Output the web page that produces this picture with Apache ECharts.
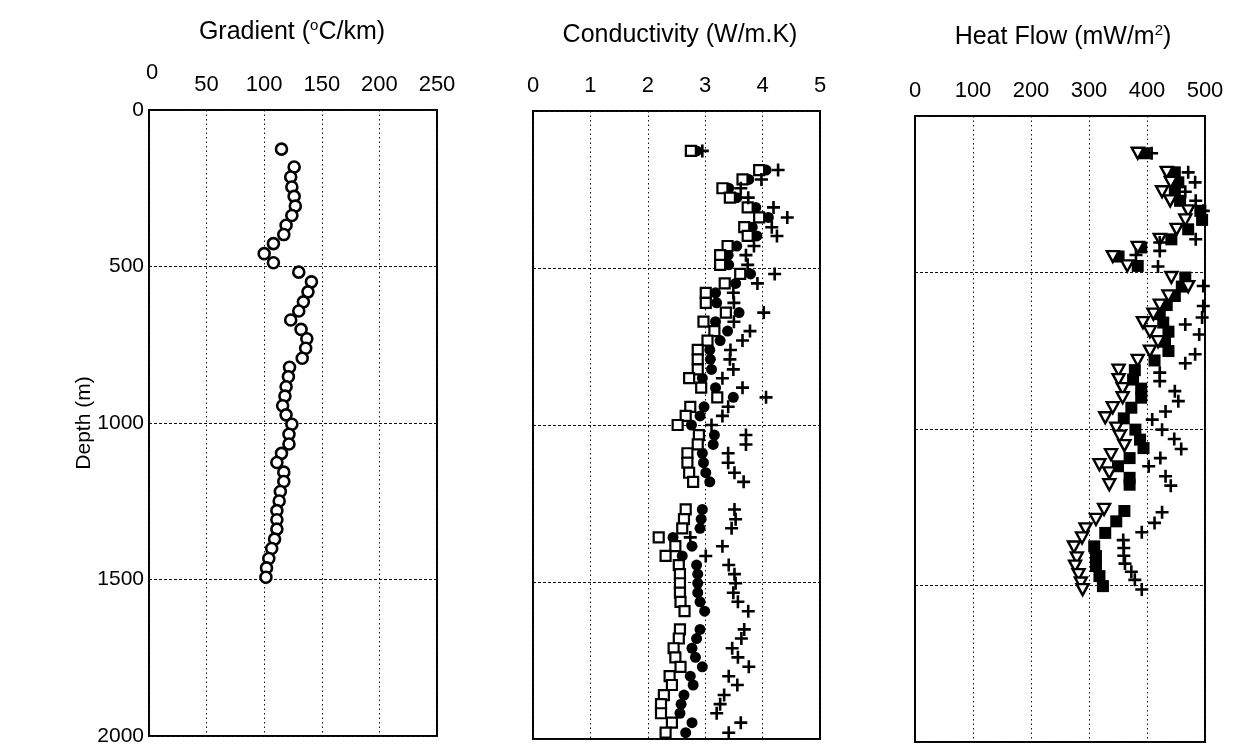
<!DOCTYPE html>
<html><head><meta charset="utf-8">
<script src="https://cdn.jsdelivr.net/npm/echarts@6/dist/echarts.min.js"></script>
<style>html,body{margin:0;padding:0;background:#fff}#c{width:1242px;height:751px}</style>
</head><body><div id="c"></div>
<script>
// ---------- Panel 1: Gradient (°C/km) ----------
var gradDepth = [125,182,214,246,276,307,337,368,398,427,459,488,518,549,581,613,642,671,701,731,761,793,822,852,884,914,945,974,1004,1036,1067,1097,1126,1157,1187,1219,1249,1280,1309,1339,1371,1401,1433,1463,1493];
var gradValue = [115,126,123,124,126,127,124,119,117,108,100,108,130,141,138,134,130,123,132,137,136,133,122,121,119,118,116,119,124,121.5,121.5,115,111,117,117,114,113,111,111,111,109,106.5,104,102,101.5];

// ---------- Panel 2: Conductivity (W/m.K) ----------
var condDepth = [127,188,218,246,276,307,339,370,398,430,459,490,519,549,579,611,642,671,701,731,761,791,823,851,881,912,942,971,1000,1032,1062,1090,1120,1152,1181,1269,1300,1329,1358,1386,1417,1446,1475,1504,1534,1563,1593,1651,1680,1711,1740,1770,1800,1828,1860,1889,1918,1948,1980];
var condSquare = [2.75,3.94,3.65,3.30,3.43,3.74,3.94,3.68,3.74,3.39,3.26,3.26,3.61,3.34,3.01,3.01,3.36,2.97,3.16,3.04,2.87,2.87,2.87,2.72,2.93,3.21,2.74,2.66,2.52,2.89,2.87,2.69,2.69,2.72,2.79,2.66,2.63,2.60,2.19,2.48,2.31,2.54,2.56,2.56,2.56,2.57,2.64,2.56,2.54,2.45,2.48,2.57,2.38,2.42,2.28,2.23,2.23,2.42,2.31];
var condCircle = [2.85,4.06,3.76,3.41,3.55,3.88,4.10,3.82,3.90,3.55,3.40,3.41,3.79,3.53,3.18,3.20,3.59,3.18,3.39,3.26,3.08,3.09,3.11,2.95,3.18,3.49,2.98,2.91,2.76,3.16,3.14,2.95,2.97,3.01,3.08,2.95,2.93,2.91,2.44,2.77,2.60,2.85,2.87,2.87,2.87,2.91,2.99,2.91,2.85,2.77,2.83,2.95,2.74,2.79,2.63,2.58,2.56,2.77,2.66];
var condPlus   = [2.95,4.27,3.98,3.62,3.75,4.19,4.43,4.16,4.25,3.85,3.71,3.74,4.21,3.91,3.49,3.50,4.02,3.50,3.78,3.65,3.44,3.43,3.49,3.30,3.65,4.06,3.40,3.30,3.11,3.71,3.71,3.40,3.40,3.51,3.67,3.51,3.53,3.46,2.74,3.30,3.01,3.41,3.51,3.53,3.49,3.57,3.75,3.68,3.63,3.47,3.57,3.76,3.41,3.56,3.33,3.26,3.20,3.62,3.41];

// ---------- Panel 3: Heat Flow (mW/m2) ----------
var hfTriDepth = [119,180,212,242,271,303,332,362,394,420,449,479,516,545,575,604,633,660,689,721,751,781,812,842,871,900,932,964,997,1023,1053,1082,1114,1140,1178,1257,1289,1319,1348,1377,1412,1438,1465,1492,1513];
var hfTriValue = [384,434,441,426,440,471,466,451,422,384,341,366,442,471,437,422,411,393,405,419,405,384,351,351,358,358,341,328,347,353,361,338,318,335,335,326,312,294,288,274,279,276,282,286,289];
var hfSqDepth  = [119,180,212,242,271,303,332,362,394,420,449,479,516,545,575,604,633,660,689,721,751,781,812,842,871,900,932,966,1002,1034,1061,1093,1119,1156,1178,1262,1295,1332,1375,1406,1438,1470,1502];
var hfSqValue  = [396,448,454,448,457,492,495,471,442,390,351,384,466,460,448,434,422,428,437,431,437,413,379,376,390,390,373,360,380,388,394,370,350,370,370,361,347,328,309,312,312,318,324];
var hfPlusDepth = [119,180,212,242,271,303,394,404,431,444,481,543,607,644,666,698,761,790,820,847,879,911,944,970,1002,1032,1064,1093,1119,1151,1181,1266,1300,1330,1355,1380,1405,1430,1456,1482,1513];
var hfPlusValue = [408,471,483,466,484,497,484,422,422,381,419,497,497,495,466,490,483,466,422,422,448,454,432,409,426,447,459,423,403,432,441,426,413,391,359,360,360,362,373,379,391];

// ---------- Axis ticks ----------
var depthTicks = {min:0, max:2000, interval:500};
var gradTicks = {min:0, max:250, interval:50};
var condTicks = {min:0, max:5, interval:1};
var hfTicks = {min:0, max:500, interval:100};

function pairs(xs, ys){ var o=[]; for(var i=0;i<xs.length && i<ys.length;i++) o.push([xs[i], ys[i]]); return o; }

var FONT = 'Liberation Sans, Arial, sans-serif';
var PLUS = 'path://M4,0H6V4H10V6H6V10H4V6H0V4H4Z';
var TRI = 'path://M0,0L10,0L5,9Z';

var grids = [
  {left:149, top:110, width:288, height:626},
  {left:533, top:111, width:287, height:628},
  {left:915, top:116, width:290, height:626}
];
grids.forEach(function(g){ g.show=true; g.borderColor='#000'; g.borderWidth=2; g.backgroundColor='transparent'; g.containLabel=false; });

function xAx(i, t, raiseZero){
  return {gridIndex:i, type:'value', position:'top', min:t.min, max:t.max, interval:t.interval,
    axisLine:{show:false}, axisTick:{show:false},
    axisLabel:{color:'#000', fontSize:22, fontFamily:FONT, margin:14,
      formatter: function(v){ return (raiseZero && v===0) ? '{r|0}' : String(v); },
      rich:{r:{fontSize:22, fontFamily:FONT, color:'#000', padding:[0,0,12,6]}}},
    splitLine:{show:true, lineStyle:{color:'#111', width:1, type:[1.5,3]}}};
}
function yAx(i, showLabel){
  return {gridIndex:i, type:'value', inverse:true, min:depthTicks.min, max:depthTicks.max, interval:depthTicks.interval,
    name: showLabel ? 'Depth (m)' : '', nameLocation:'middle', nameGap:54, nameRotate:90, nameMoveOverlap:false,
    nameTextStyle:{color:'#000', fontSize:21, fontFamily:FONT},
    axisLine:{show:false}, axisTick:{show:false},
    axisLabel:{show:showLabel, color:'#000', fontSize:21, fontFamily:FONT, margin:5,
      formatter:function(v){ return String(v); }},
    splitLine:{show:true, lineStyle:{color:'#111', width:1, type:[3,2]}}};
}

var option = {
  animation:false,
  backgroundColor:'#fff',
  grid: grids,
  xAxis:[xAx(0,gradTicks,true), xAx(1,condTicks,false), xAx(2,hfTicks,false)],
  yAxis:[yAx(0,true), yAx(1,false), yAx(2,false)],
  graphic:[
    {type:'text', x:292, y:32, style:{text:'{a|Gradient (}{s|o}{a|C/km)}', align:'center', verticalAlign:'middle',
      rich:{a:{fontSize:25, fontFamily:FONT, fill:'#000'}, s:{fontSize:15, fontFamily:FONT, fill:'#000', verticalAlign:'top', padding:[0,0,12,0]}}}},
    {type:'text', x:680, y:35, style:{text:'Conductivity (W/m.K)', align:'center', verticalAlign:'middle', fontSize:25, fontFamily:FONT, fill:'#000'}},
    {type:'text', x:1063, y:37, style:{text:'{a|Heat Flow (mW/m}{s|2}{a|)}', align:'center', verticalAlign:'middle',
      rich:{a:{fontSize:25, fontFamily:FONT, fill:'#000'}, s:{fontSize:15, fontFamily:FONT, fill:'#000', verticalAlign:'top', padding:[0,0,12,0]}}}}
  ],
  series:[
    {type:'scatter', xAxisIndex:0, yAxisIndex:0, data:pairs(gradValue, gradDepth), symbol:'circle', symbolSize:11,
      itemStyle:{color:'#fff', borderColor:'#000', borderWidth:2.6, opacity:1}},
    {type:'scatter', xAxisIndex:1, yAxisIndex:1, data:pairs(condCircle, condDepth), symbol:'circle', symbolSize:11,
      itemStyle:{color:'#000', opacity:1}},
    {type:'scatter', xAxisIndex:1, yAxisIndex:1, data:pairs(condSquare, condDepth), symbol:'rect', symbolSize:10,
      itemStyle:{color:'#fff', borderColor:'#000', borderWidth:2.2, opacity:1}},
    {type:'scatter', xAxisIndex:1, yAxisIndex:1, data:pairs(condPlus, condDepth), symbol:PLUS, symbolSize:13,
      itemStyle:{color:'#000', opacity:1}},
    {type:'scatter', xAxisIndex:2, yAxisIndex:2, data:pairs(hfSqValue, hfSqDepth), symbol:'rect', symbolSize:12,
      itemStyle:{color:'#000', opacity:1}},
    {type:'scatter', xAxisIndex:2, yAxisIndex:2, data:pairs(hfTriValue, hfTriDepth), symbol:TRI, symbolSize:[12,11],
      itemStyle:{color:'#fff', borderColor:'#000', borderWidth:2.4, opacity:1}},
    {type:'scatter', xAxisIndex:2, yAxisIndex:2, data:pairs(hfPlusValue, hfPlusDepth), symbol:PLUS, symbolSize:13,
      itemStyle:{color:'#000', opacity:1}}
  ]
};
var chart = echarts.init(document.getElementById('c'), null, {renderer:'canvas'});
chart.setOption(option);
</script></body></html>
